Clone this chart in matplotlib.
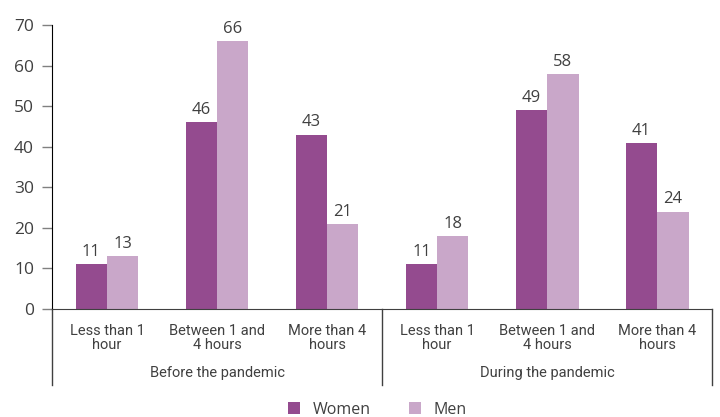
import matplotlib.pyplot as plt
import numpy as np

categories = ["Less than 1\nhour", "Between 1 and\n4 hours", "More than 4\nhours",
              "Less than 1\nhour", "Between 1 and\n4 hours", "More than 4\nhours"]
groups = ["Before the pandemic", "During the pandemic"]
women = [11, 46, 43, 11, 49, 41]
men = [13, 66, 21, 18, 58, 24]

women_color = "#944b8f"
men_color = "#c9a7c9"
text_color = "#404040"
narrow = ["Roboto", "DejaVu Sans"]

plt.rcParams["font.family"] = ["Open Sans", "DejaVu Sans"]

fig = plt.figure(figsize=(7.2, 4.17), dpi=100)
ax = fig.add_axes([0.0722, 0.259, 0.917, 0.681])

x = np.arange(len(categories))
w = 0.285
b1 = ax.bar(x - w / 2, women, w, color=women_color, label="Women")
b2 = ax.bar(x + w / 2, men, w, color=men_color, label="Men")

for bars, vals in ((b1, women), (b2, men)):
    for rect, v in zip(bars, vals):
        ax.annotate(str(v), (rect.get_x() + rect.get_width() / 2, rect.get_height()),
                    xytext=(0, 3), textcoords="offset points", ha="center", va="bottom",
                    fontsize=12, color=text_color)

ax.set_xlim(-0.5, len(categories) - 0.5)
ax.set_ylim(0, 70)
ax.set_yticks(range(0, 71, 10))
ax.tick_params(axis="y", labelsize=12.5, labelcolor=text_color, color="#808080", length=7, width=1, pad=6)
ax.set_xticks([])

for s in ["top", "right"]:
    ax.spines[s].set_visible(False)
ax.spines["left"].set_color("black")
ax.spines["bottom"].set_color("#404040")

# category labels
for i, c in enumerate(categories):
    ax.text(i, -3.6, c, ha="center", va="top", fontsize=10.5, color=text_color,
            family=narrow, linespacing=1.05)

# group labels
for g, name in enumerate(groups):
    ax.text(g * 3 + 1, -15.7, name, ha="center", va="center", fontsize=10.5,
            color=text_color, family=narrow)

# group separator lines
for xp in [-0.5, 2.5, 5.5]:
    ax.plot([xp, xp], [0, -18.7], color="#404040", lw=1, clip_on=False)

fig.legend(loc="center", bbox_to_anchor=(0.524, 0.017), ncol=2, frameon=False,
           fontsize=11.5, handlelength=0.75, handleheight=0.75, columnspacing=2.4,
           handletextpad=0.8, labelcolor=text_color)

fig.savefig("out.png", dpi=100)
